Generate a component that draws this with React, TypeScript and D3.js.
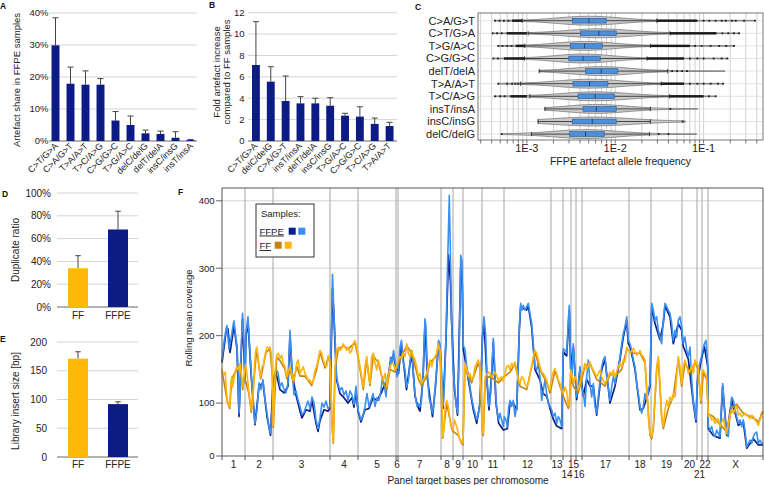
import React from 'react';
import * as d3 from 'd3';

const FONT = '"Liberation Sans", Arial, Helvetica, sans-serif';
const NAVY = '#0d1b84';
const GOLD = '#ffb80a';
const GRID = '#d4d4d4';
const AXIS = '#666';
const ERR = '#444';

// ---------------- Panel A
const aCategories = ['C>T/G>A', 'C>A/G>T', 'T>A/A>T', 'T>C/A>G', 'C>G/G>C', 'T>G/A>C', 'delC/delG', 'delT/delA', 'insC/insG', 'insT/insA'];
const aValues = [29.9, 17.9, 17.6, 17.6, 6.4, 5.0, 2.4, 2.2, 1.0, 0.3];
const aErrors = [38.5, 23.1, 21.9, 19.5, 9.2, 7.8, 3.4, 3.1, 2.9, 0.5];
const aTicks = [0, 10, 20, 30, 40];

// ---------------- Panel B
const bCategories = ['C>T/G>A', 'delC/delG', 'C>A/G>T', 'insT/insA', 'delT/delA', 'insC/insG', 'T>G/A>C', 'C>G/G>C', 'T>C/A>G', 'T>A/A>T'];
const bValues = [7.11, 5.55, 3.74, 3.52, 3.52, 3.3, 2.37, 2.28, 1.6, 1.4];
const bErrors = [11.16, 6.95, 6.08, 4.15, 4.0, 4.05, 2.59, 3.2, 2.15, 1.75];
const bTicks = [0, 2, 4, 6, 8, 10, 12];

// ---------------- Panel C
const cLabels = ['C>A/G>T', 'C>T/G>A', 'T>G/A>C', 'C>G/G>C', 'delT/delA', 'T>A/A>T', 'T>C/A>G', 'insT/insA', 'insC/insG', 'delC/delG'];
const cMin = [4.36e-4, 4.1e-4, 4.75e-4, 4.17e-4, 1.38e-3, 4.75e-4, 4.36e-4, 1.6e-3, 1.34e-3, 5.18e-4];
const cWhiskerLow = [8.86e-4, 1.035e-3, 9.5e-4, 9.4e-4, 1.38e-3, 8.49e-4, 1.08e-3, 1.6e-3, 1.34e-3, 1.13e-3];
const cQ1 = [3.27e-3, 4.06e-3, 3.1e-3, 2.98e-3, 4.62e-3, 3.33e-3, 3.79e-3, 4.32e-3, 3.27e-3, 3.05e-3];
const cMedian = [5.04e-3, 6.53e-3, 4.5e-3, 4.32e-3, 6.95e-3, 5.13e-3, 5.94e-3, 6.1e-3, 5.5e-3, 4.62e-3];
const cQ3 = [7.91e-3, 1.026e-2, 7.13e-3, 6.77e-3, 1.07e-2, 8.26e-3, 9.8e-3, 1.026e-2, 1.026e-2, 7.57e-3];
const cWhiskerHigh = [2.95e-2, 4.17e-2, 2.5e-2, 2.29e-2, 3.92e-2, 3.3e-2, 4.1e-2, 2.5e-2, 2.5e-2, 2.44e-2];
const cMax = [0.381, 0.252, 0.221, 0.186, 0.174, 0.166, 0.137, 8.55e-2, 6.2e-2, 8.3e-2];
const cDenseOutliers: number[][][] = [
  [[6.8e-4, 8.86e-4], [2.95e-2, 8.5e-2]],
  [[5.9e-4, 1.0e-3], [4.17e-2, 0.14]],
  [[7.5e-4, 9.5e-4], [2.5e-2, 7e-2]],
  [[5.5e-4, 9.4e-4], [2.29e-2, 6e-2]],
  [],
  [[3.3e-2, 6e-2]],
  [[6.5e-4, 1.0e-3], [4.1e-2, 0.1]],
  [],
  [],
  [],
];
const cOutliers: number[][] = [
  [4.36e-4, 4.9e-4, 5.5e-4, 6.2e-4, 0.1, 0.116, 0.137, 0.16, 0.178, 0.21, 0.231, 0.287, 0.381],
  [4.1e-4, 4.6e-4, 5.2e-4, 0.163, 0.19, 0.22, 0.252],
  [4.75e-4, 5.3e-4, 6e-4, 6.7e-4, 0.08, 0.095, 0.12, 0.15, 0.18, 0.221],
  [4.17e-4, 4.7e-4, 0.07, 0.085, 0.1, 0.13, 0.16, 0.186],
  [0.044, 0.05, 0.057, 0.065],
  [4.75e-4, 6e-4, 6.8e-4, 7.4e-4, 8e-4, 0.07, 0.085, 0.1, 0.12, 0.145, 0.166],
  [4.36e-4, 5e-4, 5.6e-4, 0.115, 0.137],
  [0.042],
  [0.058],
  [5.18e-4, 0.031, 0.04],
];
const cTickLabels = [1e-3, 1e-2, 1e-1];

// ---------------- Panels D, E
const deGroups = ['FF', 'FFPE'];
const dValues = [34, 68];
const dErrors = [45, 84];
const dTicks = [0, 20, 40, 60, 80, 100];
const eValues = [171, 92];
const eErrors = [183, 96];
const eTicks = [0, 50, 100, 150, 200];

// ---------------- Panel F
const chromBounds = [0, 23, 51, 108, 136, 174, 176, 219, 231, 241, 260, 282, 329, 341, 349, 354, 360, 407, 429, 460, 475, 480, 486, 541];
const chromLabels = ['1', '2', '3', '4', '5', '6', '7', '8', '9', '10', '11', '12', '13', '14', '15', '16', '17', '18', '19', '20', '21', '22', 'X'];
const chromLowRow = ['14', '16', '21'];
const fTicks = [0, 100, 200, 300, 400];

const ffpeLight: [number, number][] = [
  [0, 165], [2, 190], [4, 210], [5, 215], [7, 180], [9, 195], [11, 215], [12, 222], [14, 195], [15, 185], [16, 150], [17, 85], [18, 110], [19, 170], [20.5, 233], [22, 190], [23, 130],
  [24, 205], [26, 228], [27, 200], [29, 150], [31, 100], [33, 70], [35, 90], [37, 130], [39, 120], [41, 135], [43, 105], [45, 85], [47, 65], [48.5, 55], [50, 90], [51, 135],
  [52, 140], [54, 150], [56, 145], [58, 125], [60, 130], [62, 120], [64, 115], [66, 130], [68, 208], [70, 150], [72, 112], [74, 118], [76, 105], [78, 95], [80, 83], [82, 86], [84, 95], [86, 103], [88, 92], [90, 109], [92, 100], [94, 75], [96, 62], [98, 78], [100, 100], [102, 94], [104, 103], [106, 92], [108, 95],
  [109, 180], [110.5, 291], [112, 230], [113, 200], [114.5, 140], [116, 128], [118, 119], [120, 123], [122, 112], [124, 118], [126, 104], [128, 118], [130, 112], [132, 98], [134, 125], [136, 90],
  [137, 85], [139, 75], [141, 82], [143, 95], [145, 114], [147, 95], [149, 104], [151, 114], [153, 95], [155, 108], [157, 104], [159, 119], [160.5, 139], [162, 129], [164, 109], [165.5, 139], [167, 144], [168.5, 168], [170, 159], [171.5, 178], [173, 163],
  [175, 139], [176.5, 149], [178, 183], [179.5, 193], [181, 163], [183, 149], [184.5, 124], [186.5, 134], [188, 163], [190, 178], [191.5, 139], [193, 114], [195, 95], [196.5, 99], [198, 95], [199.5, 104], [201, 139], [203, 225], [204, 213], [205.5, 139], [207, 109], [209, 95], [210.5, 85], [212, 104], [213.5, 129], [215, 154], [216.5, 193], [218, 188],
  [219.5, 150], [221, 95], [222.5, 130], [224, 200], [225.5, 300], [227.3, 408], [228.3, 330], [229.5, 230], [231, 150], [232.5, 125], [234, 100], [235.5, 85], [237, 160], [238.7, 319], [240, 310], [241.3, 185], [243, 180], [244.7, 154], [246.5, 140], [248, 124], [249.5, 109], [251.3, 95], [253, 85], [254.7, 75], [256.5, 85], [258, 104], [259.5, 150], [260.5, 203], [262, 228], [263.7, 200], [265.3, 129], [267, 95],
  [268.7, 114], [270, 154], [271.3, 196], [272.7, 154], [274, 104], [275.3, 85], [276.7, 75], [278, 85], [279.7, 75], [281.3, 65],
  [282.3, 80], [284, 75], [285.3, 65], [286.7, 94], [288, 104], [289.7, 95], [291.3, 104], [293, 80], [294.7, 95], [296.3, 154], [297.3, 213], [298.7, 248], [300, 238], [301.3, 245], [303, 238], [304.7, 243], [306.3, 248], [308, 233], [309.7, 218], [311.3, 188], [313, 154], [314.7, 149], [316.3, 159], [318, 139], [319.7, 104], [321.3, 119], [323, 134], [324.7, 114], [326.3, 99], [328, 95], [329.7, 90],
  [331.3, 80], [333, 85], [334.7, 70], [336.3, 80], [338, 75], [339.7, 65],
  [341.3, 181], [343, 178], [344.7, 174], [346.3, 223], [347.3, 245], [348.7, 154],
  [349.7, 129], [351.3, 188], [353, 144],
  [354.7, 109], [356.3, 129], [358, 154], [359.7, 124],
  [361.3, 114], [363, 95], [364.7, 139], [366.3, 164], [368, 129], [369.7, 109], [371.3, 129], [373, 95], [374.7, 85], [376.3, 109], [378, 134], [379.7, 154], [381.3, 164], [383, 169], [384.7, 139], [386.3, 124], [388, 104], [389.7, 124], [391.3, 139], [393, 129], [394.7, 144], [396.3, 154], [398, 169], [399.7, 188], [401.3, 203], [403, 213], [404.7, 228], [406.3, 193],
  [408, 188], [409.7, 178], [411.3, 164], [413, 154], [414.7, 129], [416.3, 114], [418, 95], [419.7, 85], [421.3, 95], [423, 114], [424.7, 104], [426.3, 119], [428, 129],
  [429.7, 248], [431.3, 238], [433, 223], [434.7, 228], [436.3, 208], [438, 198], [439.7, 188], [441.3, 223], [443, 248], [444.7, 243], [446.3, 238], [448, 233], [449.7, 218], [451.3, 193], [453, 208], [454.7, 198], [456.3, 223], [458, 228], [459.7, 213],
  [461.3, 188], [463, 198], [464.7, 178], [466.3, 169], [468, 183], [469.7, 134], [471.3, 104], [473, 85], [474, 75],
  [475.3, 134], [477, 154], [478.7, 164],
  [480.7, 178], [482.3, 188], [484, 193], [485.7, 159],
  [486.3, 65], [488, 60], [489.7, 65], [491.3, 55], [493, 50], [494.7, 60], [496.3, 55], [498, 50], [499.7, 104], [500.7, 129], [502, 99], [503.3, 75], [504.7, 55], [506.3, 50], [508, 85], [509.7, 109], [511.3, 104], [513, 90], [514.7, 80], [516.3, 70], [518, 75], [519.7, 65], [521.3, 75], [523, 60], [524.7, 35], [526.3, 40], [528, 45], [529.7, 40], [531.3, 50], [533, 55], [534.7, 57], [536.3, 40], [538, 45], [539.7, 40], [541, 40],
];

const ffpeDark: [number, number][] = [
  [0, 160], [4, 205], [6, 210], [8, 175], [12, 215], [15, 180], [17, 80], [20.5, 225], [23, 135],
  [24, 200], [26, 220], [29, 145], [33, 68], [37, 125], [41, 130], [45, 80], [48.5, 52], [51, 130],
  [54, 145], [58, 120], [62, 115], [66, 125], [68, 200], [70, 145], [74, 112], [78, 88], [80, 78], [84, 90], [88, 88], [90, 104], [94, 70], [96, 58], [98, 74], [102, 90], [106, 88], [108, 92],
  [110.5, 270], [112, 225], [114.5, 135], [118, 114], [122, 108], [126, 100], [130, 108], [132, 94], [134, 118], [136, 88],
  [139, 72], [143, 90], [147, 92], [151, 108], [155, 104], [159, 114], [162, 125], [165.5, 133], [168.5, 162], [171.5, 172], [173, 158],
  [176.5, 144], [179.5, 188], [184.5, 120], [188, 158], [190, 172], [193, 110], [196.5, 92], [198, 88], [201, 135], [203, 220], [205.5, 135], [210.5, 80], [213.5, 125], [216.5, 188], [218, 183],
  [221, 92], [224, 195], [226.5, 320], [227.5, 300], [228.5, 278], [229.5, 225], [232.5, 120], [235.5, 82], [238.7, 300], [240, 295], [241.3, 180], [244.7, 150], [248, 120], [251.3, 90], [254.7, 70], [258, 100], [260.5, 198], [262, 222], [265.3, 125], [267, 90],
  [270, 150], [271.3, 190], [274, 100], [276.7, 70], [281.3, 60], [285.3, 62], [288, 100], [291.3, 100], [294.7, 90], [297.3, 208], [298.7, 243], [301.3, 240], [304.7, 238], [306.3, 244], [309.7, 212], [313, 150], [318, 134], [321.3, 114], [324.7, 110], [328, 92],
  [331.3, 76], [334.7, 66], [339.7, 62],
  [341.3, 176], [344.7, 170], [347.3, 238], [348.7, 150],
  [351.3, 183], [354.7, 105], [358, 150], [361.3, 110], [364.7, 135], [368, 125], [371.3, 125], [374.7, 82], [379.7, 150], [383, 165], [388, 100], [393, 125], [398, 165], [401.3, 198], [404.7, 222], [406.3, 188],
  [408, 184], [413, 150], [418, 90], [421.3, 92], [426.3, 115], [428, 125],
  [429.7, 243], [433, 218], [438, 194], [441.3, 218], [443, 244], [448, 228], [451.3, 188], [456.3, 218], [459.7, 208],
  [461.3, 184], [466.3, 165], [471.3, 100], [474, 72],
  [475.3, 130], [478.7, 160], [482.3, 184], [485.7, 155],
  [486.3, 62], [491.3, 52], [498, 48], [500.7, 125], [504.7, 52], [509.7, 105], [516.3, 67], [521.3, 72], [524.7, 33], [531.3, 47], [536.3, 38], [541, 38],
];

const ffGold: [number, number][] = [
  [0, 151], [1.3, 141], [3.3, 146], [4.3, 119], [5.3, 104], [6.7, 97], [7.7, 95], [8.7, 124], [9.7, 139], [10.7, 124], [11.7, 134], [13.7, 149], [14.7, 154], [16.3, 149], [18, 159], [19.7, 139], [20.7, 124], [22.3, 144],
  [23.7, 157], [25.3, 139], [26.7, 119], [28, 104], [29.3, 90], [30.7, 99], [32, 139], [33.3, 174], [34.7, 183], [36, 169], [37.3, 149], [38.7, 139], [40, 154], [41.3, 154], [42.7, 169], [44, 178], [45.3, 183], [46.7, 181], [48, 183], [49.3, 174], [50.3, 144], [51.3, 67],
  [53, 144], [54.7, 171], [56.3, 174], [58, 166], [59.7, 171], [61.3, 159], [63, 154], [64.7, 139], [66.3, 146], [68, 154], [69.7, 144], [71.3, 134], [73, 141], [74.7, 159], [76.3, 164], [78, 144], [79.7, 149], [81.3, 154], [83, 144], [84.7, 139], [86.3, 134], [88, 134], [89.7, 129], [91.3, 134], [93, 149], [94.7, 154], [96.3, 166], [98, 178], [99.7, 174], [101.3, 164], [103, 156], [104.7, 154], [106.3, 171], [108, 164],
  [108.7, 130], [110, 70], [111.3, 42], [112, 80], [113, 154], [114.7, 178], [116.3, 183], [118, 178], [119.7, 181], [121.3, 188], [123, 183], [124.7, 178], [126.3, 183], [128, 174], [129.7, 178], [131.3, 188], [133, 193], [134.7, 183], [136.3, 169],
  [138, 154], [139.7, 139], [141.3, 124], [143, 154], [144.7, 169], [146.3, 144], [148, 129], [149.7, 169], [151.3, 174], [153, 159], [154.7, 149], [156.3, 164], [158, 154], [159.7, 139], [161.3, 134], [163, 144], [164.7, 124], [166.3, 139], [168, 154], [169.7, 159], [171.3, 159], [173, 149],
  [174.7, 154], [176.3, 164], [178, 169], [179.7, 166], [181.3, 174], [183, 169], [184.7, 188], [186.3, 174], [188, 169], [189.7, 178], [191.3, 169], [193, 164], [194.7, 154], [196.3, 139], [198, 144], [199.7, 129], [201.3, 134], [203, 139], [204.7, 144], [206.3, 154], [208, 164], [209.7, 154], [211.3, 164], [213, 169], [214.7, 174], [216.3, 188], [218, 178],
  [219.7, 120], [220.7, 50], [222, 65], [223.3, 95], [224.7, 104], [226.3, 95], [228, 75], [229.7, 65], [231, 60],
  [232.5, 75], [234.7, 65], [236.3, 55], [238, 45], [239.7, 43], [241, 40],
  [243, 159], [244.7, 149], [246.3, 139], [248, 144], [249.7, 134], [251.3, 139], [253, 154], [254.7, 159], [256.3, 164], [258, 154], [259.3, 110], [260.3, 60], [261.3, 55], [262.3, 110], [263.3, 140],
  [264.7, 141], [266.3, 146], [268, 144], [269.7, 139], [271.3, 141], [273, 146], [274.7, 141], [276.3, 134], [278, 137], [279.7, 139], [281.3, 132], [283, 144], [284.7, 154], [286.3, 156], [288, 149], [289.7, 159], [291.3, 154], [293, 161], [294.7, 149], [296.3, 134], [298, 129], [299.7, 139], [301.3, 137], [303, 129], [304.7, 124], [306.3, 129], [308, 144], [309.7, 154], [311.3, 169], [313, 178], [314.7, 174], [316.3, 164], [318, 154], [319.7, 146], [321.3, 144], [323, 139], [324.7, 134], [326.3, 124], [328, 119],
  [329.7, 139], [331.3, 146], [333, 151], [334.7, 144], [336.3, 134], [338, 129], [339.7, 119], [341.3, 114], [343, 124], [344.7, 117], [346.3, 95], [347.3, 99], [348.7, 149],
  [349.7, 144], [351.3, 129], [353, 139], [354.7, 134], [356.3, 119], [358, 129], [359.7, 144], [361.3, 149], [363, 159], [364.7, 149], [366.3, 156], [368, 161], [369.7, 154], [371.3, 149], [373, 144], [374.7, 139], [376.3, 144], [378, 149], [379.7, 139], [381.3, 134], [383, 129], [384.7, 134], [386.3, 139], [388, 146], [389.7, 141], [391.3, 149], [393, 139], [394.7, 146], [396.3, 154], [398, 159], [399.7, 154], [401.3, 164], [403, 161], [404.7, 183], [406.3, 178],
  [408, 174], [409.7, 178], [411.3, 181], [413, 176], [414.7, 171], [416.3, 174], [418, 178], [419.7, 171], [421.3, 169], [423, 164], [424.7, 124], [426.3, 80], [428, 55],
  [429.7, 50], [431.3, 65], [433, 109], [434.7, 154], [436.3, 169], [438, 129], [439.7, 80], [441.3, 65], [443, 90], [444.7, 104], [446.3, 95], [448, 109], [449.7, 104], [451.3, 114], [453, 109], [454.7, 139], [456.3, 169], [458, 154], [459.7, 129],
  [461.3, 154], [463, 164], [464.7, 154], [466.3, 144], [468, 149], [469.7, 154], [471.3, 144], [473, 164], [474.7, 159],
  [476.3, 154], [478, 114], [479, 104], [480, 144], [481.3, 149], [483, 144], [484.7, 139],
  [486.3, 80], [488, 82], [489.7, 75], [491.3, 77], [493, 70], [494.7, 75], [496.3, 77], [498, 65], [499.7, 72], [501.3, 77], [503, 65], [504.7, 55], [506.3, 70], [508, 82], [509.7, 90], [511.3, 85], [513, 90], [514.7, 95], [516.3, 82], [518, 85], [519.7, 80], [521.3, 82], [523, 85], [524.7, 82], [526.3, 80], [528, 77], [529.7, 82], [531.3, 80], [533, 75], [534.7, 72], [536.3, 67], [538, 75], [539.7, 82], [541, 85],
];

const ffBrown: [number, number][] = [
  [0, 148], [5.3, 102], [7.7, 92], [9.7, 136], [14.7, 150], [18, 155], [20.7, 120], [22.3, 140],
  [26.7, 115], [29.3, 86], [32, 135], [34.7, 180], [38.7, 136], [44, 175], [48, 180], [50.3, 140], [51.3, 64],
  [54.7, 168], [58, 163], [63, 150], [64.7, 136], [68, 150], [71.3, 130], [74.7, 155], [78, 140], [83, 140], [89.7, 126], [94.7, 150], [98, 175], [103, 152], [106.3, 168], [108, 160],
  [110, 68], [111.3, 40], [113, 150], [116.3, 180], [121.3, 185], [126.3, 180], [133, 190], [136.3, 166],
  [141.3, 120], [144.7, 165], [148, 126], [151.3, 170], [156.3, 160], [161.3, 130], [164.7, 120], [168, 150], [173, 146],
  [176.3, 160], [184.7, 185], [189.7, 174], [196.3, 136], [199.7, 126], [204.7, 140], [208, 160], [214.7, 170], [216.3, 185], [218, 175],
  [220.7, 48], [224.7, 100], [229.7, 62], [231, 58], [236.3, 52], [239.7, 40], [241, 38],
  [243, 155], [249.7, 130], [256.3, 160], [258, 150], [260.3, 58], [261.3, 52], [263.3, 136],
  [268, 140], [276.3, 130], [283, 140], [288, 146], [293, 158], [298, 125], [304.7, 120], [311.3, 165], [313, 175], [318, 150], [324.7, 130], [328, 115],
  [333, 148], [338, 125], [341.3, 110], [346.3, 92], [347.3, 96],
  [348.7, 146], [351.3, 125], [356.3, 115], [358, 125], [363, 155], [368, 158], [374.7, 135], [383, 125], [388, 142], [394.7, 142], [399.7, 150], [404.7, 180], [409.7, 174], [418, 174], [423, 160], [424.7, 120], [428, 52], [429.7, 47], [431.3, 62], [434.7, 150], [436.3, 165], [439.7, 78], [441.3, 62], [446.3, 92], [451.3, 110], [456.3, 165], [459.7, 125], [463, 160], [468, 145], [473, 160], [476.3, 150], [479, 100], [481.3, 145], [484.7, 135],
  [486.3, 84], [491.3, 80], [498, 68], [504.7, 58], [509.7, 92], [514.7, 98], [521.3, 85], [528, 80], [534.7, 75], [536.3, 70], [539.7, 85], [541, 88],
];

// ====================================================================
type BarProps = {
  cats: string[]; vals: number[]; errs: number[]; ticks: number[];
  xr: [number, number]; yr: [number, number]; ymax: number;
  pi: number; po: number; colors: string[];
  fmt: (v: number) => string; tickEnd: number; tickFont: number;
  rotate: boolean; labelDx: number; labelY: number; labelFont: number;
  gridX0: number; gridX1: number; capW: number;
};

function BarChart(p: BarProps) {
  const x = d3.scaleBand<string>().domain(p.cats).range(p.xr).paddingInner(p.pi).paddingOuter(p.po);
  const y = d3.scaleLinear().domain([0, p.ymax]).range(p.yr);
  return (
    <g>
      {p.ticks.map((t) => (
        <g key={'t' + t}>
          <line x1={p.gridX0} x2={p.gridX1} y1={y(t)} y2={y(t)} stroke={t === 0 ? AXIS : GRID} strokeWidth={1} />
          <text x={p.tickEnd} y={y(t)} dy="0.35em" textAnchor="end" fontSize={p.tickFont} fill="#222">{p.fmt(t)}</text>
        </g>
      ))}
      {p.cats.map((c, i) => {
        const bx = x(c) as number;
        const cx = bx + x.bandwidth() / 2;
        return (
          <g key={c}>
            <line x1={cx} x2={cx} y1={y(p.vals[i])} y2={y(p.errs[i])} stroke={ERR} strokeWidth={1} />
            <line x1={cx - p.capW / 2} x2={cx + p.capW / 2} y1={y(p.errs[i])} y2={y(p.errs[i])} stroke={ERR} strokeWidth={1} />
            <rect x={bx} y={y(p.vals[i])} width={x.bandwidth()} height={y(0) - y(p.vals[i])} fill={p.colors[i % p.colors.length]} />
            {p.rotate ? (
              <text transform={`translate(${cx + p.labelDx},${p.labelY}) rotate(-45)`} textAnchor="end" fontSize={p.labelFont} fill="#222">{c}</text>
            ) : (
              <text x={cx} y={p.labelY} textAnchor="middle" fontSize={p.labelFont} fill="#222">{c}</text>
            )}
          </g>
        );
      })}
    </g>
  );
}

function PanelC() {
  const x = d3.scaleLog().domain([2.8e-4, 0.47]).range([478, 763]);
  const y = (i: number) => 20.7 + i * 12.6;
  const minor: number[] = [];
  for (let k = -4; k <= -1; k++) {
    for (let m = 1; m <= 9; m++) {
      const v = m * Math.pow(10, k);
      if (v >= 2.8e-4 && v <= 0.47) minor.push(v);
    }
  }
  const violin = (i: number) => {
    const lmin = Math.log10(cMin[i]);
    const lmax = Math.log10(cMax[i]);
    const lc = Math.log10(cMedian[i]);
    const s = (Math.log10(cQ3[i]) - Math.log10(cQ1[i])) / 1.1;
    const n = 90;
    const top: [number, number][] = [];
    const bot: [number, number][] = [];
    for (let j = 0; j <= n; j++) {
      const lx = lmin + ((lmax - lmin) * j) / n;
      const hw = 0.35 + 4.1 * Math.exp(-0.5 * Math.pow((lx - lc) / s, 2));
      const px = x(Math.pow(10, lx));
      top.push([px, y(i) - hw]);
      bot.push([px, y(i) + hw]);
    }
    const pts = top.concat(bot.reverse());
    return (d3.line()(pts) as string) + 'Z';
  };
  return (
    <g>
      <rect x={478} y={13} width={285} height={127} fill="#fff" />
      {minor.map((v) => (
        <line key={'g' + v} x1={x(v)} x2={x(v)} y1={13} y2={140} stroke="#c4c4c4" strokeWidth={0.8} />
      ))}
      {cLabels.map((l, i) => (
        <line key={'h' + l} x1={478} x2={763} y1={y(i)} y2={y(i)} stroke="#dcdcdc" strokeWidth={0.8} />
      ))}
      {cLabels.map((l, i) => (
        <g key={l}>
          <path d={violin(i)} fill="#c9c9c9" stroke="#6a6a6a" strokeWidth={0.7} />
          <line x1={x(cWhiskerLow[i])} x2={x(cWhiskerHigh[i])} y1={y(i)} y2={y(i)} stroke="#222" strokeWidth={0.8} />
          <line x1={x(cWhiskerLow[i])} x2={x(cWhiskerLow[i])} y1={y(i) - 2.2} y2={y(i) + 2.2} stroke="#222" strokeWidth={0.8} />
          <line x1={x(cWhiskerHigh[i])} x2={x(cWhiskerHigh[i])} y1={y(i) - 2.2} y2={y(i) + 2.2} stroke="#222" strokeWidth={0.8} />
          {cDenseOutliers[i].map((r, k) => (
            <rect key={k} x={x(r[0])} y={y(i) - 1.2} width={x(r[1]) - x(r[0])} height={2.4} fill="#1a1a1a" />
          ))}
          {cOutliers[i].map((v, k) => (
            <rect key={'o' + k} x={x(v) - 0.9} y={y(i) - 0.9} width={1.8} height={1.8} fill="#1a1a1a" />
          ))}
          <rect x={x(cQ1[i])} y={y(i) - 2.4} width={x(cQ3[i]) - x(cQ1[i])} height={4.8} fill="#4d8fd8" stroke="#2a5a96" strokeWidth={0.6} />
          <line x1={x(cMedian[i])} x2={x(cMedian[i])} y1={y(i) - 2.4} y2={y(i) + 2.4} stroke="#1b3d73" strokeWidth={0.9} />
          <text x={475} y={y(i)} dy="0.35em" textAnchor="end" fontSize={11} fill="#222">{l}</text>
        </g>
      ))}
      <rect x={478} y={13} width={285} height={127} fill="none" stroke="#777" strokeWidth={1} />
      {minor.map((v) => (
        <line key={'t' + v} x1={x(v)} x2={x(v)} y1={140} y2={143.5} stroke="#555" strokeWidth={0.8} />
      ))}
      {cTickLabels.map((v) => (
        <text key={'l' + v} x={x(v)} y={151.5} textAnchor="middle" fontSize={11} fill="#222">{'1E' + Math.round(Math.log10(v))}</text>
      ))}
      <text x={620.5} y={164.5} textAnchor="middle" fontSize={10.5} fill="#222">FFPE artefact allele frequency</text>
    </g>
  );
}

function PanelF() {
  const x = d3.scaleLinear().domain([0, 541]).range([222, 763]);
  const y = d3.scaleLinear().domain([21.5, 419]).range([456, 188]).clamp(true);
  const line = d3.line<[number, number]>().x((d) => x(d[0])).y((d) => y(d[1]));
  return (
    <g>
      {fTicks.map((t) => (
        <g key={'f' + t}>
          {t > 0 && <line x1={222} x2={763} y1={y(t)} y2={y(t)} stroke={GRID} strokeWidth={1} />}
          <line x1={216} x2={222} y1={y(t)} y2={y(t)} stroke={AXIS} strokeWidth={1} />
          <text x={214.5} y={y(t)} dy="0.35em" textAnchor="end" fontSize={9.5} fill="#222">{t}</text>
        </g>
      ))}
      {chromBounds.slice(1, -1).map((b) => (
        <line key={'cb' + b} x1={x(b)} x2={x(b)} y1={188} y2={456} stroke="#a6a6a6" strokeWidth={1} />
      ))}
      <path d={line(ffpeDark) as string} fill="none" stroke="#0b1f8c" strokeWidth={1.7} strokeLinejoin="round" />
      <path d={line(ffpeLight) as string} fill="none" stroke="#3b8ff0" strokeWidth={1.6} strokeLinejoin="round" />
      <path d={line(ffBrown) as string} fill="none" stroke="#c4820e" strokeWidth={1.6} strokeLinejoin="round" />
      <path d={line(ffGold) as string} fill="none" stroke="#ffb50a" strokeWidth={1.6} strokeLinejoin="round" />
      <line x1={222} x2={763} y1={188} y2={188} stroke="#555" strokeWidth={1} />
      <line x1={763} x2={763} y1={188} y2={456} stroke="#555" strokeWidth={1} />
      <line x1={222} x2={222} y1={188} y2={456} stroke="#555" strokeWidth={1} />
      <line x1={222} x2={763} y1={456} y2={456} stroke="#555" strokeWidth={1} />
      {chromBounds.map((b) => (
        <line key={'ct' + b} x1={x(b)} x2={x(b)} y1={456} y2={460} stroke="#555" strokeWidth={1} />
      ))}
      {chromLabels.map((l, i) => {
        const cx = x((chromBounds[i] + chromBounds[i + 1]) / 2);
        const low = chromLowRow.includes(l);
        return (
          <text key={'cl' + l} x={cx} y={low ? 477.5 : 468} textAnchor="middle" fontSize={10} fill="#222">{l}</text>
        );
      })}
      <text x={468} y={484} textAnchor="middle" fontSize={10} fill="#222">Panel target bases per chromosome</text>
      <text transform="translate(192,318) rotate(-90)" textAnchor="middle" fontSize={9.5} fill="#222">Rolling mean coverage</text>
      {/* legend */}
      <rect x={256} y={204} width={58} height={53} fill="#fff" stroke="#333" strokeWidth={1} />
      <text x={261} y={217} fontSize={9.5} fill="#222">Samples:</text>
      <text x={259.5} y={234.5} fontSize={9.5} fill="#222" textDecoration="underline">FFPE</text>
      <rect x={288.7} y={227.7} width={7} height={7} fill="#0b1f8c" />
      <rect x={298.3} y={227.7} width={7} height={7} fill="#3b8ff0" />
      <text x={259.5} y={249} fontSize={9.5} fill="#222" textDecoration="underline">FF</text>
      <rect x={274.7} y={241.7} width={7} height={7} fill="#c4820e" />
      <rect x={284.7} y={241.7} width={7} height={7} fill="#ffb50a" />
    </g>
  );
}

export default function App() {
  const pct = (v: number) => `${v}%`;
  const num = (v: number) => `${v}`;
  return (
    <svg width={764} height={485} viewBox="0 0 764 485" style={{ position: 'absolute', left: 0, top: 0, display: 'block' }} fontFamily={FONT}>
      <rect width={764} height={485} fill="#fff" />
      {/* Panel A */}
      <BarChart cats={aCategories} vals={aValues} errs={aErrors} ticks={aTicks} xr={[48, 198]} yr={[141, 13]} ymax={40}
        pi={0.47} po={0.235} colors={[NAVY]} fmt={pct} tickEnd={48.5} tickFont={9.5} rotate={true} labelDx={3} labelY={146.5}
        labelFont={9} gridX0={49} gridX1={197} capW={6} />
      <text transform="translate(20,80) rotate(-90)" textAnchor="middle" fontSize={9.5} fill="#222">Artefact share in FFPE samples</text>
      <text x={0} y={8.5} fontSize={8.5} fontWeight="bold" fill="#111">A</text>

      {/* Panel B */}
      <BarChart cats={bCategories} vals={bValues} errs={bErrors} ticks={bTicks} xr={[248.5, 397]} yr={[141, 12.7]} ymax={12}
        pi={0.47} po={0.235} colors={[NAVY]} fmt={num} tickEnd={244.5} tickFont={9.5} rotate={true} labelDx={2} labelY={146.5}
        labelFont={9} gridX0={248} gridX1={397} capW={6} />
      <text transform="translate(220,72) rotate(-90)" textAnchor="middle" fontSize={9.5} fill="#222">Fold artefact increase</text>
      <text transform="translate(229.5,72) rotate(-90)" textAnchor="middle" fontSize={9.5} fill="#222">compared to FF samples</text>
      <text x={209} y={7.5} fontSize={8.5} fontWeight="bold" fill="#111">B</text>

      {/* Panel C */}
      <PanelC />
      <text x={415} y={9.5} fontSize={8.5} fontWeight="bold" fill="#111">C</text>

      {/* Panel D */}
      <BarChart cats={deGroups} vals={dValues} errs={dErrors} ticks={dTicks} xr={[58, 138]} yr={[307, 193]} ymax={100}
        pi={0.5} po={0.25} colors={[GOLD, NAVY]} fmt={pct} tickEnd={51} tickFont={10} rotate={false} labelDx={0} labelY={318.5}
        labelFont={10} gridX0={57} gridX1={138} capW={5.5} />
      <text transform="translate(18.5,250) rotate(-90)" textAnchor="middle" fontSize={10} fill="#222">Duplicate ratio</text>
      <text x={2} y={197} fontSize={8.5} fontWeight="bold" fill="#111">D</text>

      {/* Panel E */}
      <BarChart cats={deGroups} vals={eValues} errs={eErrors} ticks={eTicks} xr={[58, 138]} yr={[457, 342]} ymax={200}
        pi={0.5} po={0.25} colors={[GOLD, NAVY]} fmt={num} tickEnd={47} tickFont={10} rotate={false} labelDx={0} labelY={467.5}
        labelFont={10} gridX0={57} gridX1={138} capW={5.5} />
      <text transform="translate(18.5,401) rotate(-90)" textAnchor="middle" fontSize={10} fill="#222">Library insert size [bp]</text>
      <text x={0} y={342} fontSize={8.5} fontWeight="bold" fill="#111">E</text>

      {/* Panel F */}
      <PanelF />
      <text x={178} y={195} fontSize={8.5} fontWeight="bold" fill="#111">F</text>
    </svg>
  );
}
